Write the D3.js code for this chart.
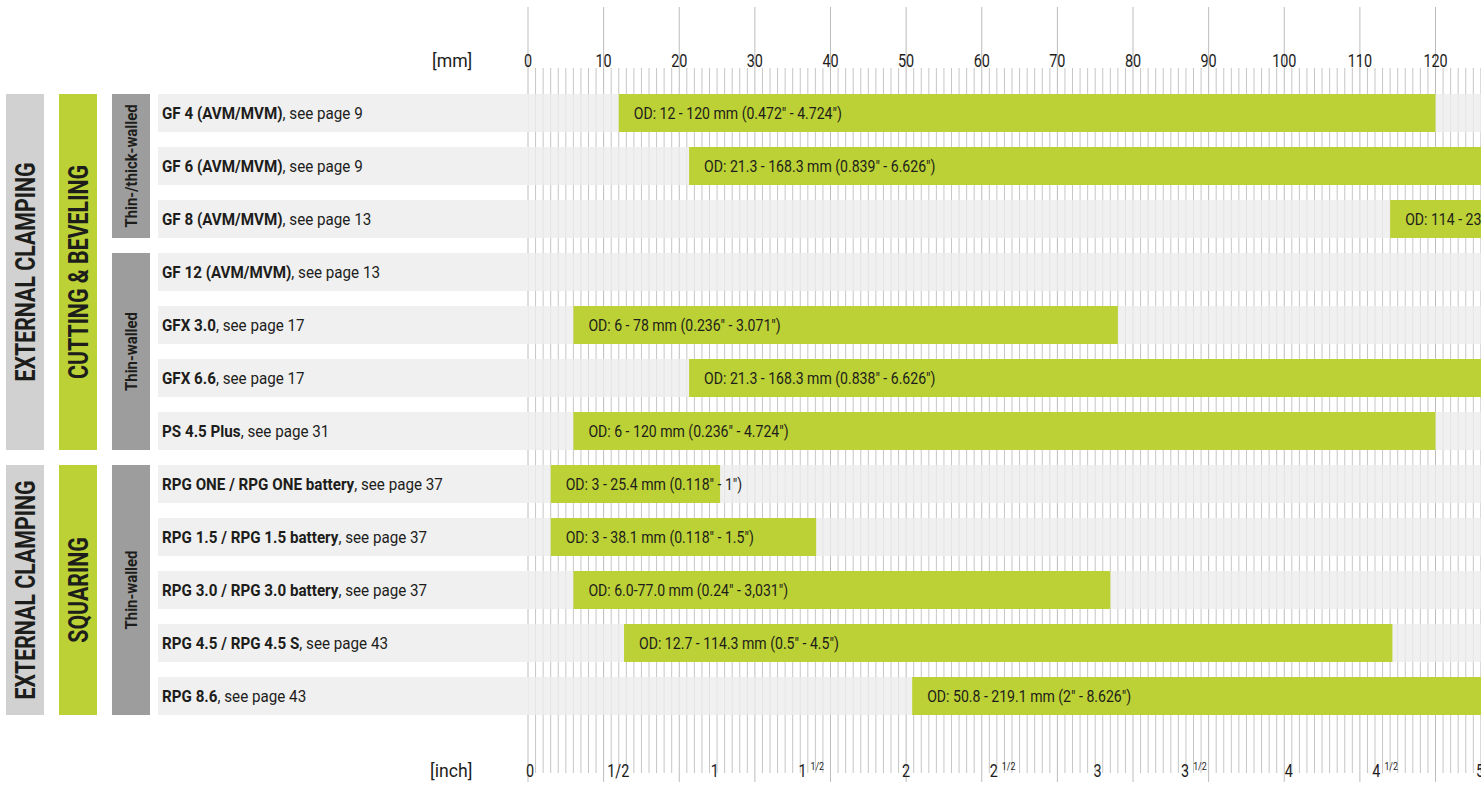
<!DOCTYPE html>
<html>
<head>
<meta charset="utf-8">
<script src="https://cdn.jsdelivr.net/npm/d3@7"></script>
<style>
  html, body { margin: 0; padding: 0; background: #ffffff; overflow: hidden; }
  svg { display: block; }
  text { font-family: Roboto, "Noto Sans", "DejaVu Sans", sans-serif; fill: #1d1d1b; }
</style>
</head>
<body>
<script>
// ---------------- data ----------------
const products = [
  "GF 4 (AVM/MVM)", "GF 6 (AVM/MVM)", "GF 8 (AVM/MVM)", "GF 12 (AVM/MVM)",
  "GFX 3.0", "GFX 6.6", "PS 4.5 Plus",
  "RPG ONE / RPG ONE battery", "RPG 1.5 / RPG 1.5 battery", "RPG 3.0 / RPG 3.0 battery",
  "RPG 4.5 / RPG 4.5 S", "RPG 8.6"
];
const pages = [9, 9, 13, 13, 17, 17, 31, 37, 37, 37, 43, 43];
const odMin = [12, 21.3, 114, null, 6, 21.3, 6, 3, 3, 6, 12.7, 50.8];
const odMax = [120, 168.3, 230, null, 78, 168.3, 120, 25.4, 38.1, 77, 114.3, 219.1];
const barLabels = [
  'OD: 12 - 120 mm (0.472" - 4.724")',
  'OD: 21.3 - 168.3 mm (0.839" - 6.626")',
  'OD: 114 - 230 mm (4.488" - 9.055")',
  '',
  'OD: 6 - 78 mm (0.236" - 3.071")',
  'OD: 21.3 - 168.3 mm (0.838" - 6.626")',
  'OD: 6 - 120 mm (0.236" - 4.724")',
  'OD: 3 - 25.4 mm (0.118" - 1")',
  'OD: 3 - 38.1 mm (0.118" - 1.5")',
  'OD: 6.0-77.0 mm (0.24" - 3,031")',
  'OD: 12.7 - 114.3 mm (0.5" - 4.5")',
  'OD: 50.8 - 219.1 mm (2" - 8.626")'
];
const mmLabels = [0, 10, 20, 30, 40, 50, 60, 70, 80, 90, 100, 110, 120];
const inchValues = [0, 0.5, 1, 1.5, 2, 2.5, 3, 3.5, 4, 4.5, 5];
const inchMain = ["0", "", "1", "1", "2", "2", "3", "3", "4", "4", "5"];
const inchFrac = ["", "1/2", "", "1/2", "", "1/2", "", "1/2", "", "1/2", ""];
const groupL1 = [["EXTERNAL CLAMPING", 0, 6], ["EXTERNAL CLAMPING", 7, 11]];
const groupL2 = [["CUTTING & BEVELING", 0, 6], ["SQUARING", 7, 11]];
const groupL3 = [["Thin-/thick-walled", 0, 2], ["Thin-walled", 3, 6], ["Thin-walled", 7, 11]];

// ---------------- layout ----------------
const W = 1481, H = 785;
const GREEN = "#bcd135";
const svg = d3.select("body").append("svg").attr("width", W).attr("height", H);

const x = d3.scaleLinear().domain([0, 120]).range([528, 1435.5]);
// the printed inch labels sit on their own slightly tighter ruler
const xInchLabel = d3.scaleLinear().domain([0, 5]).range([519.5, 1476]);
const y = d3.scaleBand().domain(d3.range(products.length))
  .range([94, 715]).paddingInner(15 / 53).paddingOuter(0);
const bw = y.bandwidth();

function ctext(g, tx, ty, s, anchor) {
  return g.append("text")
    .attr("transform", `translate(${tx},${ty}) scale(${s},1)`)
    .attr("text-anchor", anchor || "start");
}

// ---------------- ticks ----------------
const maxMm = x.invert(W);
const minor = d3.range(0, Math.floor(maxMm) + 1).filter(d => d % 10 !== 0);
const major = d3.range(0, Math.floor(maxMm) + 1, 10);
const tickG = svg.append("g");
tickG.selectAll("line.minor").data(minor).join("line")
  .attr("x1", d => x(d)).attr("x2", d => x(d))
  .attr("y1", 68).attr("y2", 773)
  .attr("stroke", "#c6c6c6").attr("stroke-width", 1);
tickG.selectAll("line.major").data(major).join("line")
  .attr("x1", d => x(d)).attr("x2", d => x(d))
  .attr("y1", 7).attr("y2", 782)
  .attr("stroke", "#bdbdbd").attr("stroke-width", 1);

// ---------------- row bands ----------------
const rows = d3.range(products.length);
svg.append("g").selectAll("rect").data(rows).join("rect")
  .attr("x", 158).attr("y", d => y(d)).attr("width", W - 158).attr("height", bw)
  .attr("fill", "#ececec").attr("fill-opacity", 0.8);
svg.append("g").selectAll("rect").data(rows).join("rect")
  .attr("x", 158).attr("y", d => y(d)).attr("width", x(0) - 158).attr("height", bw)
  .attr("fill", "#f0f0f0");

// ---------------- bars ----------------
const barRows = rows.filter(i => odMin[i] !== null);
svg.append("g").selectAll("rect").data(barRows).join("rect")
  .attr("x", i => x(odMin[i])).attr("y", i => y(i))
  .attr("width", i => x(odMax[i]) - x(odMin[i])).attr("height", bw)
  .attr("fill", GREEN);

const barTextG = svg.append("g");
barRows.forEach(i => {
  ctext(barTextG, x(odMin[i]) + 15, y(i) + bw / 2 + 5.5, 0.88)
    .style("font-size", "16px").text(barLabels[i]);
});

// ---------------- row labels ----------------
const labG = svg.append("g");
rows.forEach(i => {
  const t = ctext(labG, 162, y(i) + bw / 2 + 5.5, 0.95).style("font-size", "16px");
  t.append("tspan").style("font-weight", 700).text(products[i]);
  t.append("tspan").text(", see page " + pages[i]);
});

// ---------------- group boxes ----------------
function groupCol(data, bx, fill, fontSize, weight, sx) {
  const g = svg.append("g");
  data.forEach(([label, a, b]) => {
    const y0 = y(a), y1 = y(b) + bw;
    g.append("rect").attr("x", bx).attr("y", y0).attr("width", 38).attr("height", y1 - y0)
      .attr("fill", fill);
    g.append("text")
      .attr("transform", `translate(${bx + 19.5},${(y0 + y1) / 2}) rotate(-90) scale(${sx},1)`)
      .attr("text-anchor", "middle").attr("dy", "0.36em")
      .style("font-size", fontSize + "px").style("font-weight", weight)
      .text(label);
  });
}
groupCol(groupL1, 6, "#d1d1d1", 27, 700, 0.79);
groupCol(groupL2, 59, GREEN, 27, 700, 0.79);
groupCol(groupL3, 112, "#9d9d9d", 16, 700, 0.93);

// ---------------- axis labels ----------------
const axG = svg.append("g");
ctext(axG, 432, 67, 0.98).style("font-size", "18px").text("[mm]");
mmLabels.forEach(v => {
  ctext(axG, x(v), 67, 0.8, "middle").style("font-size", "18px").text(v);
});
ctext(axG, 430, 777, 0.98).style("font-size", "18px").text("[inch]");
inchValues.forEach((v, i) => {
  if (v === 0) {
    ctext(axG, x(0) - 2, 777, 0.8, "start").style("font-size", "18px").text(inchMain[i]);
  } else if (inchMain[i] === "") {
    ctext(axG, xInchLabel(v) - 8, 777, 0.8, "start").style("font-size", "18px").text(inchFrac[i]);
  } else if (inchFrac[i] === "") {
    ctext(axG, xInchLabel(v), 777, 0.8, "start").style("font-size", "18px").text(inchMain[i]);
  } else {
    const t = ctext(axG, xInchLabel(v) - 8, 777, 0.8, "start").style("font-size", "18px");
    t.append("tspan").text(inchMain[i]);
    t.append("tspan").attr("dx", 5).attr("dy", -7).style("font-size", "11px").text(inchFrac[i]);
  }
});
</script>
</body>
</html>
